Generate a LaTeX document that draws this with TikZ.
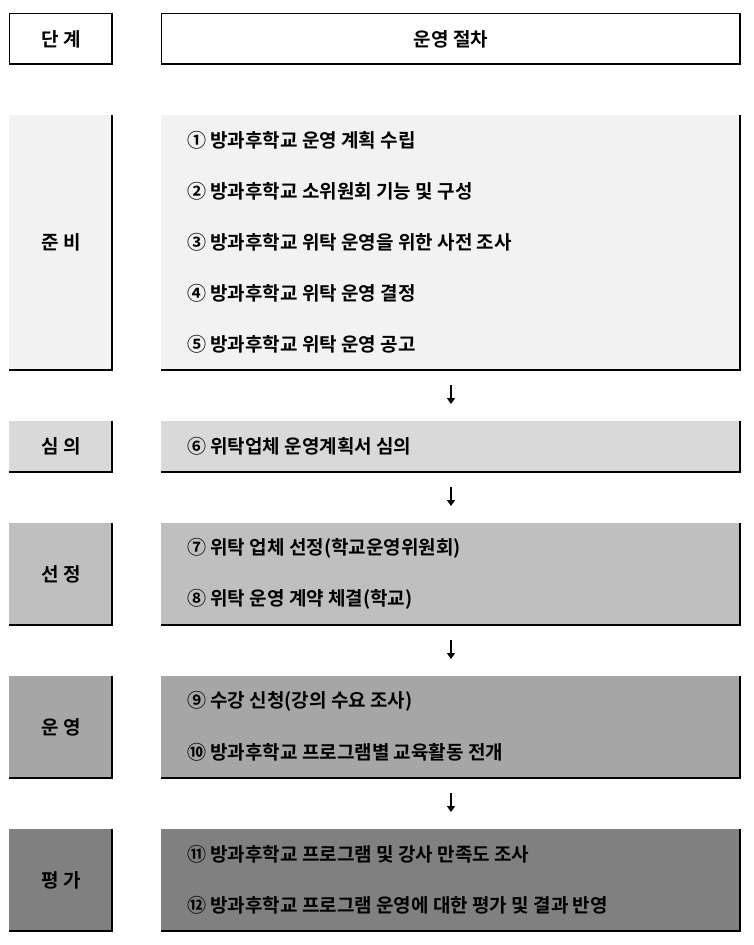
\documentclass[tikz,border=0pt]{standalone}
\usepackage{fontspec}
\setmainfont{Noto Sans CJK KR}[BoldFont={* Bold}]
\usetikzlibrary{arrows.meta}
\definecolor{c1}{HTML}{F2F2F2}
\definecolor{c2}{HTML}{D9D9D9}
\definecolor{c3}{HTML}{BFBFBF}
\definecolor{c4}{HTML}{A6A6A6}
\definecolor{c5}{HTML}{808080}
\tikzset{
  txt/.style={font=\bfseries\fontsize{19}{21}\selectfont, inner sep=0pt, anchor=west},
  ctr/.style={font=\bfseries\fontsize{19}{21}\selectfont, inner sep=0pt},
  shade/.style={line width=2.6pt},
  thin/.style={line width=1pt},
  flow/.style={line width=1.8pt, -{Triangle[length=6pt,width=8pt]}}
}
\newcommand{\stagebox}[4]{% fill, ytop, ybot, name
  \fill[#1] (9,-#2) rectangle (113,-#3);
  \fill[#1] (161,-#2) rectangle (741,-#3);
  \draw[shade] (112,-#2) -- (112,-#3) -- (9,-#3);
  \draw[shade] (740,-#2) -- (740,-#3) -- (161,-#3);
  \coordinate (#4L) at (61,{-(#2+#3)/2});
  \coordinate (#4T) at (451,-#2);
  \coordinate (#4B) at (451,-#3);
}
\begin{document}
\begin{tikzpicture}[x=1pt,y=1pt]
\useasboundingbox (0,0) rectangle (753,-945);
% header
\draw[thin] (112,-13) -- (9,-13) -- (9,-64);
\draw[shade] (112,-13) -- (112,-64) -- (9,-64);
\draw[thin] (740,-13) -- (161,-13) -- (161,-64);
\draw[shade] (740,-13) -- (740,-64) -- (161,-64);
\node[ctr] (h1) at (61,-39) {단 계};
\node[ctr] (h2) at (451,-39) {운영 절차};
% stages
\stagebox{c1}{115}{370}{s1}
\stagebox{c2}{421}{472}{s2}
\stagebox{c3}{523}{625}{s3}
\stagebox{c4}{676}{778}{s4}
\stagebox{c5}{829}{931}{s5}
\node[ctr] (l1) at (s1L) {준 비};
\node[ctr] (l2) at (s2L) {심 의};
\node[ctr] (l3) at (s3L) {선 정};
\node[ctr] (l4) at (s4L) {운 영};
\node[ctr] (l5) at (s5L) {평 가};
\node[txt] (t1) at (187,-140) {① 방과후학교 운영 계획 수립};
\node[txt] (t2) at (187,-191) {② 방과후학교 소위원회 기능 및 구성};
\node[txt] (t3) at (187,-242) {③ 방과후학교 위탁 운영을 위한 사전 조사};
\node[txt] (t4) at (187,-293) {④ 방과후학교 위탁 운영 결정};
\node[txt] (t5) at (187,-344) {⑤ 방과후학교 위탁 운영 공고};
\node[txt] (t6) at (187,-446) {⑥ 위탁업체 운영계획서 심의};
\node[txt] (t7) at (187,-548) {⑦ 위탁 업체 선정(학교운영위원회)};
\node[txt] (t8) at (187,-599) {⑧ 위탁 운영 계약 체결(학교)};
\node[txt] (t9) at (187,-701) {⑨ 수강 신청(강의 수요 조사)};
\node[txt] (t10) at (187,-752) {⑩ 방과후학교 프로그램별 교육활동 전개};
\node[txt] (t11) at (187,-854) {⑪ 방과후학교 프로그램 및 강사 만족도 조사};
\node[txt] (t12) at (187,-905) {⑫ 방과후학교 프로그램 운영에 대한 평가 및 결과 반영};
% arrows
\draw[flow] ([yshift=-15]s1B) -- ([yshift=-34]s1B);
\draw[flow] ([yshift=-15]s2B) -- ([yshift=-34]s2B);
\draw[flow] ([yshift=-15]s3B) -- ([yshift=-34]s3B);
\draw[flow] ([yshift=-15]s4B) -- ([yshift=-34]s4B);
\end{tikzpicture}
\end{document}
